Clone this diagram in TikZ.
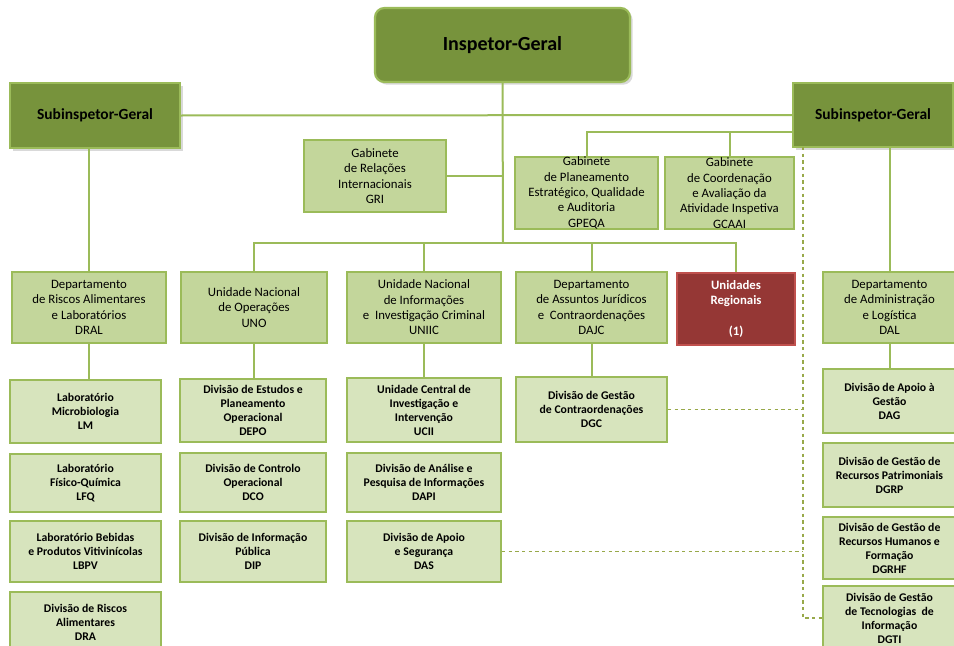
\documentclass[tikz,border=0pt]{standalone}
\usepackage{fontspec}
\setmainfont{Carlito}
\usetikzlibrary{shadows}

\definecolor{olivedark}{HTML}{77933C}
\definecolor{olivebord}{HTML}{9BBB59}
\definecolor{olivemid}{HTML}{C3D69B}
\definecolor{olivelight}{HTML}{D7E4BD}
\definecolor{regred}{HTML}{953735}
\definecolor{regbord}{HTML}{C0504D}
\definecolor{dashcol}{HTML}{98A94A}

\begin{document}
\begin{tikzpicture}[x=0.75pt, y=-0.75pt,
	bw/.style={minimum width=#1*0.75pt},
	bh/.style={minimum height=#1*0.75pt},
	box/.style={shape=rectangle, draw=olivebord, line width=1.6pt, inner sep=0pt, align=center},
	head/.style={box, fill=olivedark, font=\bfseries\fontsize{11.6}{13}\selectfont,
		drop shadow={opacity=0.3, shadow xshift=2pt, shadow yshift=-2pt}},
	unit/.style={box, fill=olivemid, font=\fontsize{9.6}{11.5}\selectfont},
	div/.style={box, fill=olivelight, font=\bfseries\fontsize{8.8}{10.5}\selectfont},
	link/.style={draw=olivebord, line width=1.5pt},
	dashlink/.style={draw=dashcol, line width=0.8pt, dash pattern=on 2.5pt off 2.5pt}]
	
	\useasboundingbox (0,0) rectangle (954,646);
	
	% top level
	\node[head, bw=255, bh=74, rounded corners=7pt, font=\bfseries\fontsize{15}{17}\selectfont] (ig) at (502.5,45) {Inspetor-Geral};
	\node[head, bw=170, bh=65] (sgl) at (95,115.5) {Subinspetor-Geral};
	\node[head, bw=160, bh=64] (sgr) at (873,115) {Subinspetor-Geral};
	
	% gabinetes
	\node[unit, bw=142, bh=72] (gri) at (375,176) {Gabinete\\de Relações\\Internacionais\\GRI};
	\node[unit, bw=143, bh=72] (gpeqa) at (586.5,193) {Gabinete\\de Planeamento\\Estratégico, Qualidade\\e Auditoria\\GPEQA};
	\node[unit, bw=129, bh=72] (gcaai) at (729.5,193) {Gabinete\\de Coordenação\\e Avaliação da\\Atividade Inspetiva\\GCAAI};
	
	% departamentos e unidades
	\node[unit, bw=154, bh=71] (dral) at (89,307.5) {Departamento\\de Riscos Alimentares\\e Laboratórios\\DRAL};
	\node[unit, bw=146, bh=71] (uno) at (254,307.5) {Unidade Nacional\\de Operações\\UNO};
	\node[unit, bw=154, bh=71] (uniic) at (424,307.5) {Unidade Nacional\\de Informações\\e~~Investigação Criminal\\UNIIC};
	\node[unit, bw=151, bh=71] (dajc) at (591.5,307.5) {Departamento\\de Assuntos Jurídicos\\e~~Contraordenações\\DAJC};
	\node[box, draw=regbord, fill=regred, text=white, bw=118, bh=72,
		font=\bfseries\fontsize{9.6}{11.5}\selectfont,
		drop shadow={opacity=0.2, shadow xshift=1pt, shadow yshift=-1pt}] (ur) at (736,309) {Unidades\\Regionais\\\mbox{}\\(1)};
	\node[unit, bw=133, bh=71] (dal) at (889.5,307.5) {Departamento\\de Administração\\e Logística\\DAL};
	
	% divisoes DRAL
	\node[div, bw=151, bh=63] (lm) at (85.5,411.5) {Laboratório\\Microbiologia\\LM};
	\node[div, bw=151, bh=58] (lfq) at (85.5,483) {Laboratório\\Físico-Química\\LFQ};
	\node[div, bw=151, bh=61] (lbpv) at (85.5,551.5) {Laboratório Bebidas\\e Produtos Vitivinícolas\\LBPV};
	\node[div, bw=151, bh=60] (dra) at (85.5,622) {Divisão de Riscos\\Alimentares\\DRA};
	
	% divisoes UNO
	\node[div, bw=146, bh=63] (depo) at (253,410.5) {Divisão de Estudos e\\Planeamento\\Operacional\\DEPO};
	\node[div, bw=146, bh=59] (dco) at (253,482.5) {Divisão de Controlo\\Operacional\\DCO};
	\node[div, bw=146, bh=61] (dip) at (253,551.5) {Divisão de Informação\\Pública\\DIP};
	
	% divisoes UNIIC
	\node[div, bw=154, bh=64] (ucii) at (424,410) {Unidade Central de\\Investigação e\\Intervenção\\UCII};
	\node[div, bw=154, bh=59] (dapi) at (424,482.5) {Divisão de Análise e\\Pesquisa de Informações\\DAPI};
	\node[div, bw=154, bh=61] (das) at (424,551.5) {Divisão de Apoio\\e Segurança\\DAS};
	
	% divisao DAJC
	\node[div, bw=151, bh=65] (dgc) at (591.5,409.5) {Divisão de Gestão\\de Contraordenações\\DGC};
	
	% divisoes DAL
	\node[div, bw=133, bh=64] (dag) at (889.5,401) {Divisão de Apoio à\\Gestão\\DAG};
	\node[div, bw=133, bh=64] (dgrp) at (889.5,475) {Divisão de Gestão de\\Recursos Patrimoniais\\DGRP};
	\node[div, bw=133, bh=62] (dgrhf) at (889.5,548) {Divisão de Gestão de\\Recursos Humanos e\\Formação\\DGRHF};
	\node[div, bw=133, bh=64] (dgti) at (889.5,618) {Divisão de Gestão\\de Tecnologias~~de\\Informação\\DGTI};
	
	% ligacoes
	\coordinate (bus) at (503,243);
	\coordinate (gab) at (793,132);
	\coordinate (dv) at (803,147);
	
	\path[link] (sgl.east) edge (sgr.west);
	\path[link] (ig.south) edge (bus);
	\path[link] (gri.east) edge (gri.east -| ig.south);
	\path[link] (gab) -| (gpeqa.north);
	\path[link] (gcaai.north) edge (gcaai.north |- gab);
	\path[link] (sgl.south -| dral.north) edge (dral.north);
	\path[link] (sgr.south -| dal.north) edge (dal.north);
	\path[link] (uno.north) |- (bus) -| (ur.north);
	\path[link] (uniic.north) edge (uniic.north |- bus);
	\path[link] (dajc.north) edge (dajc.north |- bus);
	
	\path[link] (dral.south) edge (dral.south |- lm.north);
	\path[link] (uno.south) edge (uno.south |- depo.north);
	\path[link] (uniic.south) edge (uniic.south |- ucii.north);
	\path[link] (dajc.south) edge (dajc.south |- dgc.north);
	\path[link] (dal.south) edge (dal.south |- dag.north);
	
	\path[dashlink] (dv) |- (dgti.west);
	\path[dashlink] (dgc.east) edge (dgc.east -| dv);
	\path[dashlink] (das.east) edge (das.east -| dv);
	
\end{tikzpicture}
\end{document}
